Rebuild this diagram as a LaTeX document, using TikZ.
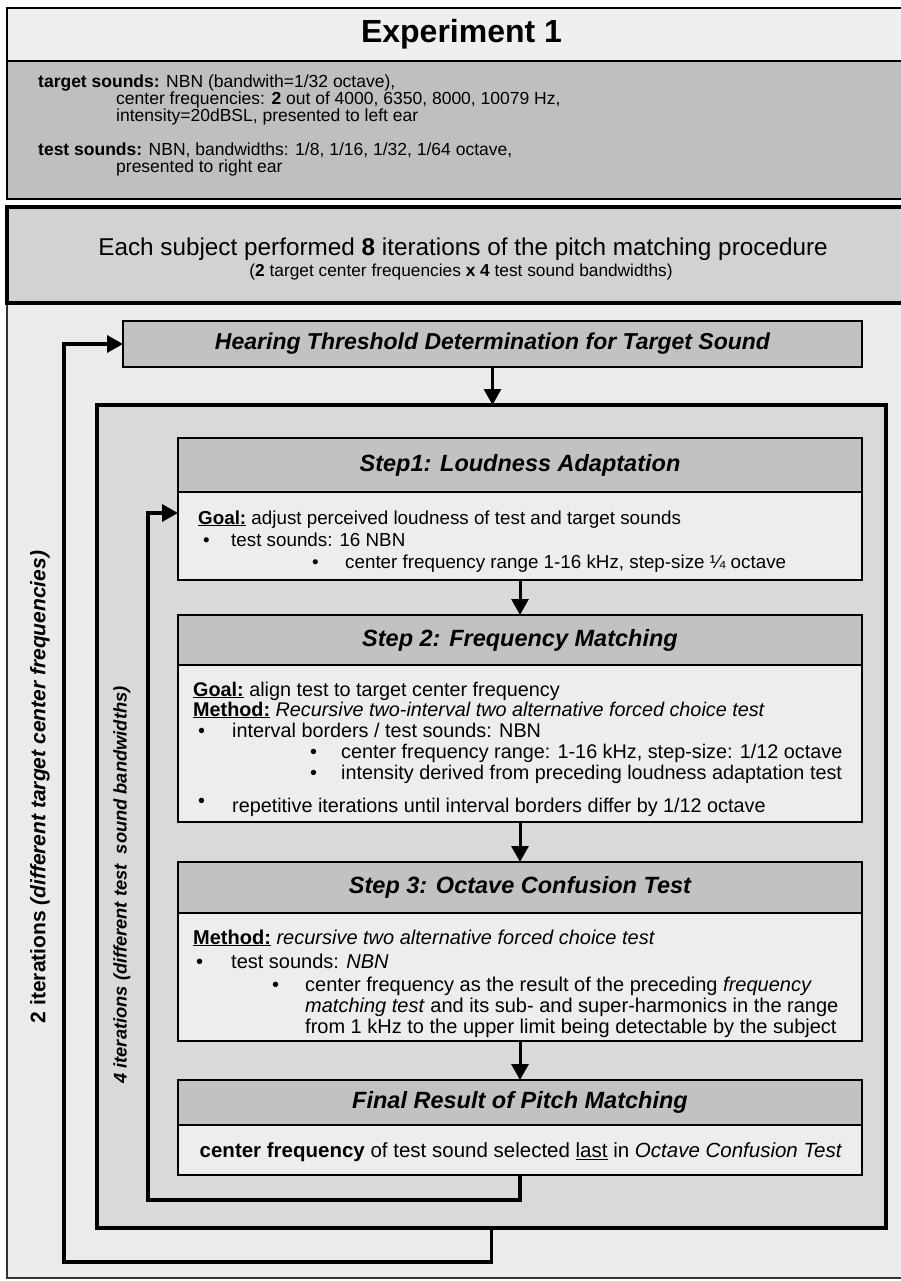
\documentclass[tikz,border=0pt]{standalone}
\usepackage{fontspec}
\setmainfont{Liberation Sans}
\usetikzlibrary{arrows.meta}
\definecolor{titlebg}{HTML}{EFEFEF}
\definecolor{infobg}{HTML}{BFBFBF}
\definecolor{mainbg}{HTML}{EBEBEB}
\definecolor{mainhd}{HTML}{D2D2D2}
\definecolor{midbg}{HTML}{D9D9D9}
\definecolor{headbg}{HTML}{C2C2C2}
\definecolor{bodybg}{HTML}{EDEDED}
\newcommand\fsz[1]{\fontsize{#1}{#1}\selectfont}
\begin{document}
\begin{tikzpicture}[x=1pt,y=-1pt,
  box/.style={draw, rectangle, inner sep=0pt, outer sep=0pt, anchor=north west},
  hdbox/.style={box, fill=headbg, line width=2.4pt, font=\fsz{23.5}\bfseries\itshape},
  bdbox/.style={box, fill=bodybg, line width=1.6pt},
  txt/.style={inner sep=0pt, anchor=base west},
  infotxt/.style={txt, font=\fsz{17.5}},
  bodytxt/.style={txt, font=\fsz{18.8}},
  s2txt/.style={txt, font=\fsz{19.8}},
  s3txt/.style={txt, font=\fsz{20}},
  flow/.style={line width=3pt, -{Triangle[width=17pt,length=16pt]}},
  loopline/.style={line width=3.5pt, line join=miter, -{Triangle[width=17pt,length=16pt]}}]
\useasboundingbox (0,0) rectangle (901,1281);
\fill[white] (0,0) rectangle (901,1281);

% ---------- Experiment 1 ----------
\node[box, fill=titlebg, line width=1.5pt, minimum width=909pt, minimum height=53pt,
      font=\fsz{32}\bfseries] (exptitle) at (7,8) {Experiment 1};
\node[box, fill=infobg, line width=1.5pt, minimum width=909pt, minimum height=138pt] (expinfo) at (7,61) {};
\node[infotxt] (i1) at (38,88) {\textbf{target sounds:} NBN (bandwith=1/32 octave),};
\node[infotxt] (i2) at (116,105) {center frequencies: \textbf{2} out of 4000, 6350, 8000, 10079 Hz,};
\node[infotxt] (i3) at (116,122) {intensity=20dBSL, presented to left ear};
\node[infotxt] (i4) at (38,156) {\textbf{test sounds:} NBN, bandwidths: 1/8, 1/16, 1/32, 1/64 octave,};
\node[infotxt] (i5) at (116,173) {presented to right ear};

% ---------- main procedure box ----------
\node[box, fill=mainbg, draw=black!80, line width=1.8pt, minimum width=909pt, minimum height=1071pt] (main) at (7,207) {};
\node[box, fill=mainhd, line width=4.5pt, minimum width=909pt, minimum height=96pt] (mainhead) at (7,207) {};
\node[inner sep=0pt, font=\fsz{24.3}] (h1) at (463,249) {Each subject performed \textbf{8} iterations of the pitch matching procedure};
\node[inner sep=0pt, font=\fsz{17.3}] (h2) at (461,272) {(\textbf{2} target center frequencies \textbf{x 4} test sound bandwidths)};

% hearing threshold
\node[box, fill=headbg, line width=2.4pt, minimum width=739pt, minimum height=46pt,
      font=\fsz{23}\bfseries\itshape] (htd) at (123,321) {Hearing Threshold Determination for Target Sound};

% middle (loop) box
\node[box, fill=midbg, line width=3.5pt, minimum width=789pt, minimum height=823pt] (mid) at (97,405) {};

% Step 1
\node[hdbox, minimum width=684pt, minimum height=54pt] (s1h) at (178,438) {Step1: Loudness Adaptation};
\node[bdbox, minimum width=684pt, minimum height=88pt] (s1b) at (178,492) {};
\node[bodytxt] (s1t1) at (198,524) {\underline{\textbf{Goal:}} adjust perceived loudness of test and target sounds};
\node[bodytxt] (s1d1) at (203,546) {•};
\node[bodytxt] (s1t2) at (231,546) {test sounds: 16 NBN};
\node[bodytxt] (s1d2) at (312,568) {•};
\node[bodytxt] (s1t3) at (345,568) {center frequency range 1-16 kHz, step-size ¼ octave};

% Step 2
\node[hdbox, minimum width=684pt, minimum height=50pt] (s2h) at (178,615) {Step 2: Frequency Matching};
\node[bdbox, minimum width=684pt, minimum height=157pt] (s2b) at (178,665) {};
\node[s2txt] (s2t1) at (193,696) {\underline{\textbf{Goal:}} align test to target center frequency};
\node[s2txt] (s2t2) at (193,716) {\underline{\textbf{Method:}} \textit{Recursive two-interval two alternative forced choice test}};
\node[s2txt] (s2d1) at (198,737) {•};
\node[s2txt] (s2t3) at (232,737) {interval borders / test sounds: NBN};
\node[s2txt] (s2d2) at (310,758) {•};
\node[s2txt] (s2t4) at (341,758) {center frequency range: 1-16 kHz, step-size: 1/12 octave};
\node[s2txt] (s2d3) at (310,779) {•};
\node[s2txt] (s2t5) at (341,779) {intensity derived from preceding loudness adaptation test};
\node[s2txt] (s2d4) at (198,807) {•};
\node[s2txt] (s2t6) at (232,812) {repetitive iterations until interval borders differ by 1/12 octave};

% Step 3
\node[hdbox, minimum width=684pt, minimum height=51pt] (s3h) at (178,862) {Step 3: Octave Confusion Test};
\node[bdbox, minimum width=684pt, minimum height=128pt] (s3b) at (178,913) {};
\node[s3txt] (s3t1) at (193,944) {\underline{\textbf{Method:}} \textit{recursive two alternative forced choice test}};
\node[s3txt] (s3d1) at (196,968) {•};
\node[s3txt] (s3t2) at (231,968) {test sounds: \textit{NBN}};
\node[s3txt] (s3d2) at (272,991) {•};
\node[s3txt] (s3t3) at (305,991) {center frequency as the result of the preceding \textit{frequency}};
\node[s3txt] (s3t4) at (305,1012) {\textit{matching test} and its sub- and super-harmonics in the range};
\node[s3txt] (s3t5) at (305,1033) {from 1 kHz to the upper limit being detectable by the subject};

% Final result
\node[hdbox, minimum width=684pt, minimum height=45pt] (fh) at (178,1080) {Final Result of Pitch Matching};
\node[bdbox, minimum width=684pt, minimum height=50pt] (fb) at (178,1125) {};
\node[inner sep=0pt, font=\fsz{20.5}] (ft) at (521,1152) {\textbf{center frequency} of test sound selected \underline{last} in \textit{Octave Confusion Test}};

% ---------- flow arrows ----------
\draw[flow] (htd.south) -- (htd.south |- mid.north);
\draw[flow] (s1b.south) -- (s2h.north);
\draw[flow] (s2b.south) -- (s3h.north);
\draw[flow] (s3b.south) -- (fh.north);

% ---------- loops ----------
\coordinate (o1) at (64,1262);
\coordinate (in1) at (148,1200);
\coordinate (in2) at (178,513);
\draw[loopline] (mid.south) |- (o1) |- (htd.west);
\draw[loopline] (fb.south) |- (in1) |- (in2);

\node[rotate=90, inner sep=0pt, font=\fsz{21}\bfseries] (lab2) at (40,787)
  {2 iterations \textit{(different target center frequencies)}};
\node[rotate=90, inner sep=0pt, font=\fsz{18.3}\bfseries\itshape] (lab4) at (122,885)
  {4 iterations (different test \ sound bandwidths)};
\end{tikzpicture}
\end{document}
